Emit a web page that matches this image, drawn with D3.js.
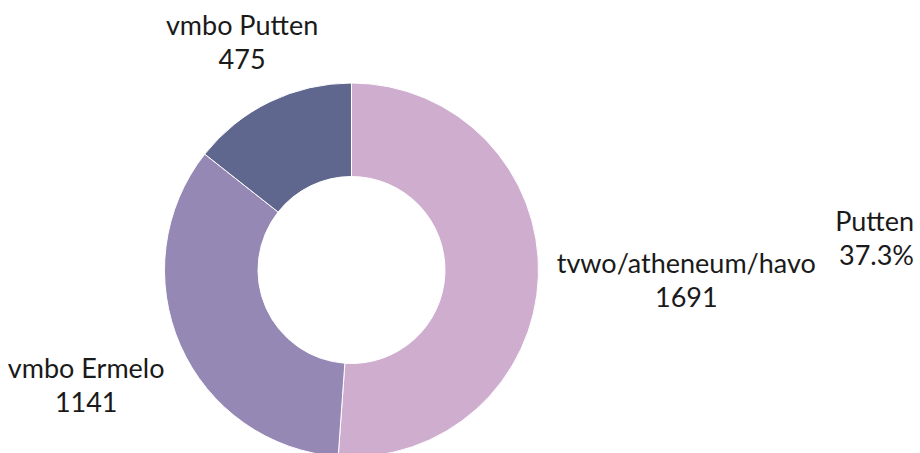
<!DOCTYPE html>
<html>
<head>
<meta charset="utf-8">
<script src="https://cdn.jsdelivr.net/npm/d3@7"></script>
<style>
  html, body { margin: 0; padding: 0; background: #fff; }
  svg { display: block; }
  text { font-family: Lato, "Noto Sans", sans-serif; font-size: 27px; fill: #1a1a1a; }
</style>
</head>
<body>
<svg id="chart"></svg>
<script>
const categories = ["tvwo/atheneum/havo", "vmbo Ermelo", "vmbo Putten"];
const values = [1691, 1141, 475];
const colors = ["#CFADCF", "#9688B5", "#5F678F"];
const cornerTitle = ["Putten", "37.3%"];

const width = 920;
const height = 453;
const cx = 351.5;
const cy = 270;
const outerR = 187;
const innerR = 93.5;
// how far out each label sits, measured from the centre
const labelR = [335, 290, 251];
const lineGap = 34;

const svg = d3.select("#chart")
  .attr("width", width)
  .attr("height", height)
  .attr("viewBox", `0 0 ${width} ${height}`);

const data = categories.map((c, i) => ({ name: c, value: values[i], color: colors[i], idx: i }));

const pie = d3.pie()
  .sort(null)
  .value(d => d.value);

const arc = d3.arc()
  .innerRadius(innerR)
  .outerRadius(outerR);

const g = svg.append("g")
  .attr("transform", `translate(${cx},${cy})`);

const arcs = pie(data);

g.selectAll("path.slice")
  .data(arcs)
  .enter()
  .append("path")
  .attr("class", "slice")
  .attr("d", arc)
  .attr("fill", d => d.data.color)
  .attr("stroke", "#fff")
  .attr("stroke-width", 1);

const labels = g.selectAll("text.label")
  .data(arcs)
  .enter()
  .append("text")
  .attr("class", "label")
  .attr("text-anchor", "middle")
  .attr("transform", d => {
    const a = (d.startAngle + d.endAngle) / 2;
    const r = labelR[d.data.idx];
    const x = r * Math.sin(a);
    const y = -r * Math.cos(a);
    return `translate(${x},${y})`;
  });

labels.append("tspan")
  .attr("x", 0)
  .attr("y", -lineGap / 2 + 8)
  .text(d => d.data.name);

labels.append("tspan")
  .attr("x", 0)
  .attr("y", lineGap / 2 + 8)
  .text(d => d.data.value);

const title = svg.append("text")
  .attr("text-anchor", "end")
  .attr("transform", `translate(914, 231)`);

title.selectAll("tspan")
  .data(cornerTitle)
  .enter()
  .append("tspan")
  .attr("x", 0)
  .attr("y", (d, i) => i * lineGap)
  .text(d => d);
</script>
</body>
</html>
